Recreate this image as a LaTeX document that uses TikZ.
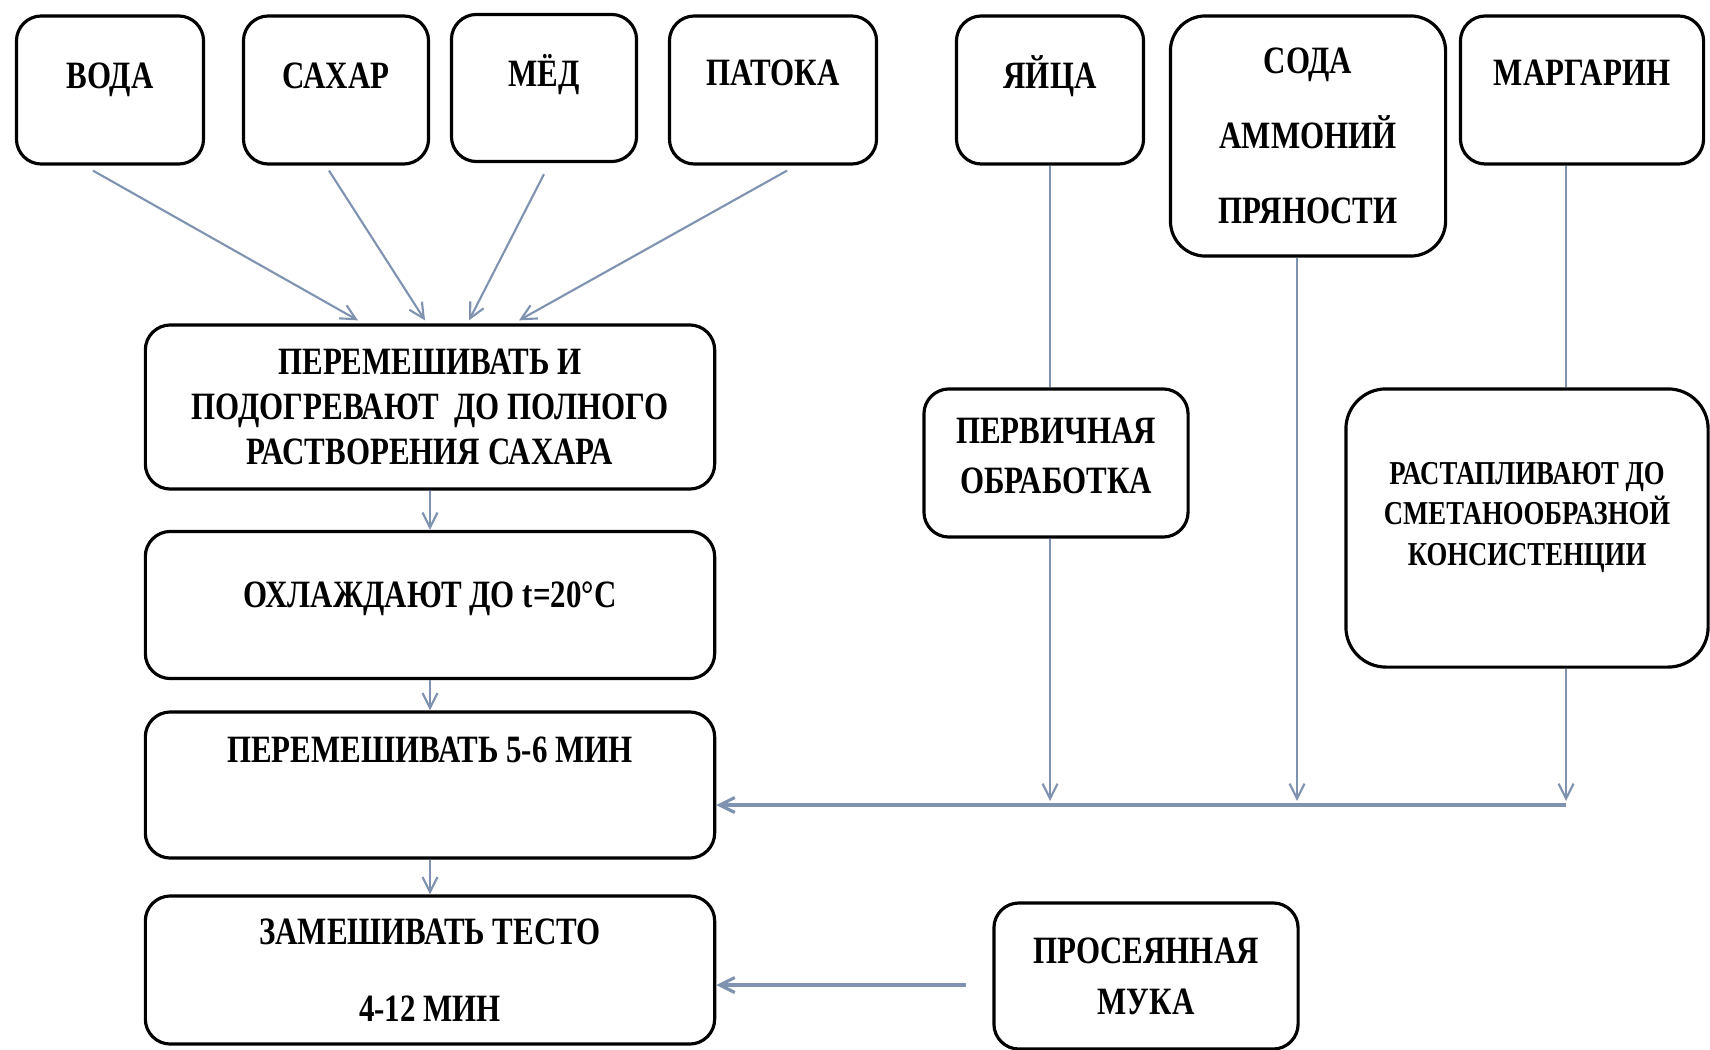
\documentclass[tikz,border=0pt]{standalone}
\usepackage{fontspec}
\setmainfont{Liberation Serif}[FakeStretch=0.8]
\usepackage{tikz}
\usetikzlibrary{calc,arrows.meta}
\definecolor{linkblue}{HTML}{7F93B1}
\tikzset{
	stage/.style={draw=black, line width=0.9pt, rounded corners=0.25cm, align=center, inner sep=0pt, font=\bfseries\fontsize{11}{13}\selectfont},
	feed/.style={draw=linkblue, line width=0.6pt, -{Straight Barb[length=1.5mm,width=1.5mm]}},
	bus/.style={draw=linkblue, line width=0.6pt}
}

\begin{document}
\begin{tikzpicture}[x=0.01cm, y=-0.01cm]
			%%%%% START %%%%%
			\useasboundingbox (0, 0) rectangle (1710, 1049);
			
			\node[stage, minimum width=1.87cm, text height=0.73cm, text depth=0.75cm] (voda) at (110, 90) {ВОДА};
			\node[stage, minimum width=1.85cm, text height=0.73cm, text depth=0.75cm] (sahar) at (336, 90) {САХАР};
			\node[stage, minimum width=1.85cm, text height=0.72cm, text depth=0.75cm] (med) at (544, 88) {МЁД};
			\node[stage, minimum width=2.07cm, text height=0.70cm, text depth=0.78cm] (patoka) at (773, 90) {ПАТОКА};
			\node[stage, minimum width=1.87cm, text height=0.73cm, text depth=0.75cm] (yaica) at (1050, 90) {ЯЙЦА};
			\node[stage, minimum width=2.75cm, minimum height=2.40cm, rounded corners=0.35cm, font=\bfseries\fontsize{11}{21.3}\selectfont] (soda) at (1308, 136) {СОДА\\АММОНИЙ\\ПРЯНОСТИ};
			\node[stage, minimum width=2.43cm, text height=0.70cm, text depth=0.78cm] (margarin) at (1582, 90) {МАРГАРИН};
			
			\node[stage, minimum width=5.69cm, minimum height=1.64cm, font=\bfseries\fontsize{11}{12.8}\selectfont] (mix) at (430, 407) {ПЕРЕМЕШИВАТЬ И\\ПОДОГРЕВАЮТ\ \ ДО ПОЛНОГО\\РАСТВОРЕНИЯ САХАРА};
			\node[stage, minimum width=5.69cm, text height=0.76cm, text depth=0.71cm] (cool) at (430, 605) {ОХЛАЖДАЮТ ДО t=20°C};
			\node[stage, minimum width=5.69cm, text height=0.51cm, text depth=0.95cm] (stir) at (430, 785) {ПЕРЕМЕШИВАТЬ 5-6 МИН};
			\node[stage, minimum width=5.69cm, minimum height=1.48cm, font=\bfseries\fontsize{11}{21.9}\selectfont] (knead) at (430, 970) {ЗАМЕШИВАТЬ ТЕСТО\\4-12 МИН};
			
			\node[stage, minimum width=2.64cm, text height=1.04cm, text depth=0.44cm, font=\bfseries\fontsize{11}{14}\selectfont] (prep) at (1056, 463) {ПЕРВИЧНАЯ\\ОБРАБОТКА};
			\node[stage, minimum width=3.62cm, text height=1.76cm, text depth=1.02cm, rounded corners=0.4cm, font=\bfseries\fontsize{9.5}{11.4}\selectfont] (melt) at (1527, 528) {РАСТАПЛИВАЮТ ДО\\СМЕТАНООБРАЗНОЙ\\КОНСИСТЕНЦИИ};
			\node[stage, minimum width=3.04cm, minimum height=1.46cm, font=\bfseries\fontsize{11}{14.5}\selectfont] (flour) at (1146, 976) {ПРОСЕЯННАЯ\\МУКА};
			
			\coordinate (join) at (1566, 805);
			\coordinate (sieve) at ($(flour.west)+(-26, 9)$);
			
			\draw[feed] ($(voda.south)+(-17, 5)$) -- ($(mix.north)+(-72, -3)$);
			\draw[feed] ($(sahar.south)+(-7, 5)$) -- ($(mix.north)+(-5, -3)$);
			\draw[feed] ($(med.south)+(0, 11)$) -- ($(mix.north)+(39, -3)$);
			\draw[feed] ($(patoka.south)+(14, 5)$) -- ($(mix.north)+(89, -3)$);
			
			\draw[feed] (mix.south) -- (cool.north);
			\draw[feed] (cool.south) -- (stir.north);
			\draw[feed] (stir.south) -- (knead.north);
			
			\draw[bus] (yaica.south) -- (yaica.south |- prep.north);
			\draw[feed] (yaica.south |- prep.south) -- ($(yaica.south |- join)+(0, -4)$);
			\draw[feed] ($(soda.south)+(-11, 0)$) -- ($(soda.south |- join)+(-11, -4)$);
			\draw[bus] (margarin.south -| join) -- (melt.north -| join);
			\draw[feed] (melt.south -| join) -- ($(join)+(0, -4)$);
			\draw[feed, line width=0.9pt] (join) -- (join -| stir.east);
			
			\draw[feed, line width=0.9pt] (sieve) -- (sieve -| knead.east);
			%%%%% END %%%%%
\end{tikzpicture}
\end{document}
